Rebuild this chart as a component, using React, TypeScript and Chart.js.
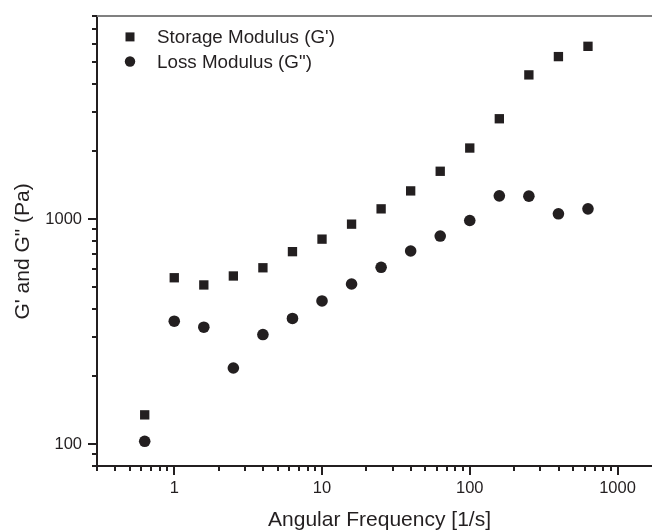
import React, { useEffect, useRef } from 'react';
import { Chart, registerables } from 'chart.js';

Chart.register(...registerables);

// Angular frequency [1/s]
const frequency = [0.631, 1, 1.585, 2.512, 3.981, 6.31, 10, 15.85, 25.12, 39.81, 63.1, 100, 158.5, 251.2, 398.1, 631];
// Storage modulus G' [Pa]
const storageModulus = [135, 549, 510, 559, 608, 717, 815, 950, 1111, 1335, 1632, 2070, 2793, 4375, 5275, 5861];
// Loss modulus G" [Pa]
const lossModulus = [103, 352, 331, 218, 307, 362, 433, 515, 611, 722, 841, 986, 1269, 1265, 1056, 1111];

const seriesLabels = ["Storage Modulus (G')", 'Loss Modulus (G")'];
const xTitle = 'Angular Frequency [1/s]';
const yTitle = 'G\' and G" (Pa)';

const xMajorTicks = [1, 10, 100, 1000];
const xMinorTicks = [0.3, 0.4, 0.5, 0.6, 0.7, 0.8, 0.9, 2, 3, 4, 5, 6, 7, 8, 9, 20, 30, 40, 50, 60, 70, 80, 90, 200, 300, 400, 500, 600, 700, 800, 900, 2000];
const yMajorTicks = [100, 1000];
const yMinorTicks = [80, 90, 200, 300, 400, 500, 600, 700, 800, 900, 2000, 3000, 4000, 5000, 6000, 7000, 8000];

const FONT = '"Liberation Sans", Arial, Helvetica, sans-serif';
const INK = '#231f20';

const buildTicks = (majors: number[], minors: number[]) =>
  [...majors.map((v) => ({ value: v, major: true })), ...minors.map((v) => ({ value: v, major: false }))].sort(
    (a, b) => a.value - b.value
  );

const axisDecor = {
  id: 'axisDecor',
  afterDraw(chart: any) {
    const { ctx, chartArea } = chart;
    const xs = chart.scales.x;
    const ys = chart.scales.y;
    ctx.save();
    // top frame line
    ctx.strokeStyle = '#808080';
    ctx.lineWidth = 2;
    ctx.beginPath();
    ctx.moveTo(chartArea.left, chartArea.top);
    ctx.lineTo(chartArea.right, chartArea.top);
    ctx.stroke();
    // tick marks (major long, minor short)
    ctx.strokeStyle = INK;
    ctx.lineWidth = 2;
    for (const t of xs.ticks) {
      const px = Math.round(xs.getPixelForValue(t.value));
      const len = t.major ? 9 : 5;
      ctx.beginPath();
      ctx.moveTo(px, chartArea.bottom);
      ctx.lineTo(px, chartArea.bottom + len);
      ctx.stroke();
    }
    for (const t of ys.ticks) {
      const py = Math.round(ys.getPixelForValue(t.value));
      const len = t.major ? 9 : 5;
      ctx.beginPath();
      ctx.moveTo(chartArea.left - len, py);
      ctx.lineTo(chartArea.left, py);
      ctx.stroke();
    }
    // y-axis title
    ctx.save();
    ctx.fillStyle = INK;
    ctx.font = `21px ${FONT}`;
    ctx.textAlign = 'center';
    ctx.textBaseline = 'alphabetic';
    ctx.translate(28.6, (chartArea.top + chartArea.bottom) / 2 + 10.5);
    ctx.rotate(-Math.PI / 2);
    ctx.fillText(yTitle, 0, 0);
    ctx.restore();
    // legend
    const lx = chartArea.left + 33;
    const ly = chartArea.top + 21;
    const gap = 24.6;
    ctx.fillStyle = INK;
    ctx.font = `18.8px ${FONT}`;
    ctx.textBaseline = 'middle';
    ctx.textAlign = 'left';
    chart.data.datasets.forEach((ds: any, i: number) => {
      const cy = ly + i * gap;
      ctx.beginPath();
      if (ds.pointStyle === 'rect') {
        ctx.rect(lx - 4.5, cy - 4.5, 9, 9);
      } else {
        ctx.arc(lx, cy, 5.2, 0, Math.PI * 2);
      }
      ctx.fill();
      ctx.fillText(ds.label, lx + 27, cy + 1);
    });
    ctx.restore();
  },
};

export default function App() {
  const canvasRef = useRef<HTMLCanvasElement | null>(null);

  useEffect(() => {
    const canvas = canvasRef.current;
    if (!canvas) return;
    const chart = new Chart(canvas, {
      type: 'scatter',
      data: {
        datasets: [
          {
            label: seriesLabels[0],
            data: frequency.map((x, i) => ({ x, y: storageModulus[i] })),
            pointStyle: 'rect',
            pointRadius: 6.6,
            pointBorderWidth: 0,
            backgroundColor: INK,
            borderColor: INK,
            showLine: false,
          },
          {
            label: seriesLabels[1],
            data: frequency.map((x, i) => ({ x, y: lossModulus[i] })),
            pointStyle: 'circle',
            pointRadius: 5.8,
            pointBorderWidth: 0,
            backgroundColor: INK,
            borderColor: INK,
            showLine: false,
          },
        ],
      },
      options: {
        animation: false,
        responsive: false,
        devicePixelRatio: 1,
        layout: { padding: { top: 14, right: 10, left: 0, bottom: 0 } },
        plugins: {
          legend: { display: false },
          tooltip: { enabled: false },
        },
        scales: {
          x: {
            type: 'logarithmic',
            position: 'bottom',
            min: 0.3,
            max: 2000,
            afterBuildTicks: (scale: any) => {
              scale.ticks = buildTicks(xMajorTicks, xMinorTicks);
            },
            afterFit: (scale: any) => {
              scale.height = 66;
            },
            grid: { display: true, drawOnChartArea: false, drawTicks: true, tickLength: 9, tickColor: 'rgba(0,0,0,0)' },
            border: { display: true, color: INK, width: 2 },
            ticks: {
              autoSkip: false,
              maxRotation: 0,
              padding: 4,
              color: INK,
              font: { family: FONT, size: 16.5 },
              callback: (v: any) => (xMajorTicks.includes(Number(v)) ? String(v) : ''),
            },
            title: {
              display: true,
              text: xTitle,
              color: INK,
              font: { family: FONT, size: 21, lineHeight: 1 },
              padding: { top: 0, bottom: 1 },
            },
          },
          y: {
            type: 'logarithmic',
            position: 'left',
            min: 80,
            max: 8000,
            afterBuildTicks: (scale: any) => {
              scale.ticks = buildTicks(yMajorTicks, yMinorTicks);
            },
            afterFit: (scale: any) => {
              scale.width = 97;
            },
            grid: { display: true, drawOnChartArea: false, drawTicks: true, tickLength: 9, tickColor: 'rgba(0,0,0,0)' },
            border: { display: true, color: INK, width: 2 },
            ticks: {
              autoSkip: false,
              padding: 6,
              color: INK,
              font: { family: FONT, size: 16.5 },
              callback: (v: any) => (yMajorTicks.includes(Number(v)) ? String(v) : ''),
            },
            title: { display: false },
          },
        },
      },
      plugins: [axisDecor],
    } as any);
    return () => chart.destroy();
  }, []);

  return (
    <div style={{ position: 'fixed', left: 0, top: 0, width: 652, height: 532, overflow: 'hidden', background: '#fff' }}>
      <canvas ref={canvasRef} width={672} height={532} style={{ display: 'block', width: 672, height: 532 }} />
    </div>
  );
}
